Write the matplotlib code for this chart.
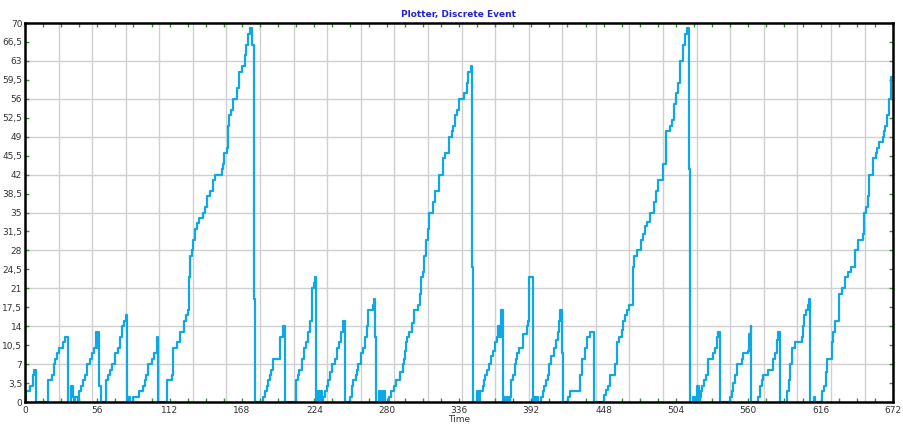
import numpy as np
import matplotlib
matplotlib.use("Agg")
import matplotlib.pyplot as plt

# step breakpoints (time, value), held until next point
times = [
    0, 0.8, 3.9, 5.9, 7.2, 8.5,
    17.5, 20.6, 22.4, 23.3, 24.5, 26.6, 29.2, 31.2, 33,
    36, 37, 38, 39, 41,
    42, 43.3, 44.6, 46.5, 48.3, 50.3, 51.6, 53.5, 54.9, 55.7, 56.2, 57.5, 58.5,
    62.7, 64.5, 65.8, 67, 69.7, 72.3, 73.5, 74.8, 76.7, 78.3, 79.2,
    80, 81.5, 83.3,
    88.5, 91, 92.8, 94, 95.5, 98, 100, 101.9, 102.7,
    110.2, 113.5, 114.3, 117.4, 120, 123.1, 124.6, 126.4, 127.2, 127.7, 129, 130.3,
    131.6, 132.9, 135, 137.5, 139, 141.1, 143.2, 145.8, 147, 152.2, 153.5, 154.3,
    156.1, 157.4, 158.2, 159.5, 160.8, 164.5, 165.5, 168, 170.1, 171.4, 172.7,
    174.5, 176.1, 177.1, 178.4,
    184.5, 186, 187.5, 188.5, 189.5, 190.5, 192, 197.5, 199.5, 201,
    209.8, 211, 212.4, 214.2, 216, 217.5, 219, 220.6, 222.2, 223.8, 224.4, 225.5,
    227.1, 228.3, 229.1, 230,
    230.9, 232.2, 233.6, 234.8, 236.1, 237.4, 240, 241.8, 243.3, 244.5, 245.9, 247.7,
    251.6, 252.9, 254.2, 256.3, 257.2, 258, 259.8, 261.9, 263.1, 265, 265.8, 269.2,
    270, 270.9, 271.7,
    274.3, 275.5, 277.5, 279,
    281.5, 283.5, 286, 287.5, 290, 292.4, 293.5, 294.5, 295.2, 296, 297, 300, 301.5,
    304.5, 305.5, 306.6, 307.9, 309.2, 310.2, 311.8, 313, 316.1, 317.4, 320.8, 324,
    325.2, 328.5, 330.3, 331.6, 332.9, 334.2, 336, 339.9, 341.9, 343.2, 345, 345.8,
    346.6,
    349.7, 351.5, 352.5,
    354.5, 355.1, 356.5, 357.9, 359.2, 361, 362.5, 363.9, 365.2, 366.5, 367.7, 368.3,
    369.7,
    371, 372, 373, 374,
    375.4, 376.5, 378, 379, 380, 381.2, 382.5, 385.8, 388.4, 389.3, 390, 390.5, 393.3,
    394, 395, 396, 397,
    399.8, 401, 402.1, 403.3, 404.6, 405.8, 407.4, 409.5, 411.1, 412.5, 413.8, 414.5,
    415.5, 416.7,
    420.6, 422, 429.7, 431, 433.5, 435, 437.4, 440.3,
    448, 449.5, 451.6, 452.8, 456.7, 458, 459.8, 461.9, 463.2, 464.5, 466.3, 467.8,
    470.5, 471.7, 473.5, 476.6, 478.2, 480, 481.6, 484.2, 486.8, 488.4, 489.7, 493.6,
    496.2, 499.3, 500.6, 502.4, 504, 505.8, 507.1, 509.7, 511, 512.3, 514.1, 515,
    517.4, 518.6, 520.5, 521.8,
    522.6, 523.3, 524.1, 525.9, 527.3, 529, 532.9, 534.2, 535.5, 536.8, 538.1,
    545.8, 547.1, 548.4, 549.6, 550.9, 554.8, 556.1, 560, 560.8, 561.8, 562.4,
    567.7, 569, 570.3, 571.6, 575.4, 578.8, 580.6, 581.9, 582.7, 583.4, 583.9, 584.5,
    589.6, 591.5, 592.5, 593.6, 596.1, 601.3, 602.3, 603.4, 604.9, 606, 606.7, 607.8,
    610.7, 612,
    616.7, 618.5, 620.1, 621.2, 624.4, 625.7, 627, 630.1, 632.2, 634.8, 637.3, 639.2,
    642.5, 644.6, 648.5, 649.5, 651.1, 652.4, 653.4, 656.8, 658.8, 660, 661.2, 664.3,
    665, 666.1, 667.4, 669.2, 670.8, 672,
]
values = [
    0, 2, 3, 5, 6, 0,
    4, 5, 7, 8, 9, 10, 11, 12, 0,
    3, 1, 0, 1, 0,
    2, 3, 4, 5, 7, 8, 9, 10, 13, 10, 13, 3, 0,
    4, 5, 6, 7, 9, 10, 12, 14, 15, 16, 0,
    1, 0, 1,
    2, 3, 4, 5, 7, 8, 9, 12, 0,
    4, 5, 10, 11, 13, 15, 16, 17, 23, 27, 28, 30,
    32, 33, 34, 35, 36, 38, 39, 41, 42, 43, 44, 46,
    47, 51, 53, 54, 56, 58, 61, 62, 64, 66, 68,
    69, 66, 19, 0,
    1, 2, 3, 4, 5, 6, 8, 12, 14, 0,
    4, 5, 6, 8, 10, 11, 13, 15, 21, 22, 23, 0,
    2, 0, 2, 0,
    1, 2, 3, 4, 5.5, 7, 8, 10, 11, 13, 15, 0,
    1, 3, 4, 5, 6, 7, 9, 10, 12, 14, 17, 18,
    19, 12, 0,
    2, 0, 2, 0,
    1, 2, 3, 4, 5.5, 7, 8, 9.5, 11, 12, 13, 14.5, 17,
    18, 20, 23, 24, 27, 30, 32, 35, 37, 39, 42, 45,
    46, 49, 50, 51, 53, 54, 56, 57, 59, 61, 62, 25,
    0,
    2, 0, 2,
    3, 4, 5, 6, 7, 8.5, 9.5, 11, 12, 14, 12, 17,
    0,
    1, 0, 1, 0,
    1, 4, 5, 7, 8, 9, 10, 12.5, 14, 15, 20, 23, 0,
    1, 0, 1, 0,
    1, 2, 3, 4, 5, 7, 8.5, 10, 11.5, 13, 15, 17,
    9, 0,
    1, 2, 5, 8, 10, 12, 13, 0,
    1.3, 2.2, 3, 5, 7, 11, 12, 13.3, 15, 16, 17, 18,
    25, 27, 28, 30, 31, 32.5, 33.3, 35, 37, 39, 41, 44,
    50, 51, 52, 55, 57, 59, 63, 66, 68, 69, 43, 0,
    1, 0, 3, 0,
    1, 2, 3, 4, 5, 8, 9, 10, 12, 13, 0,
    1, 2, 3.5, 5, 7, 8, 9, 9.5, 12.5, 14, 0,
    1, 3, 4, 5, 6, 8, 9, 11.5, 13, 12, 13, 0,
    2, 4, 7, 10, 11, 12, 14, 16, 17, 18, 19, 0,
    1, 0,
    2, 3, 5.5, 8, 11, 13, 15, 20, 21, 23, 24, 25,
    28, 30, 31, 35, 36, 38, 42, 45, 46, 47, 48, 49,
    50, 51, 53, 56, 60, 60,
]

x_ticks = list(range(0, 673, 56))
y_ticks = list(np.arange(0, 70.1, 3.5))
y_tick_labels = [("%g" % v).replace(".", ",") for v in y_ticks]

fig = plt.figure(figsize=(9.04, 4.26), dpi=100)
ax = fig.add_axes([25 / 904, 24 / 426, 868 / 904, 379 / 426])

# background grid (x every 26, y every 7 as in the source plotter)
for g in range(26, 672, 26):
    ax.axvline(g, color="#d0d0d0", lw=1.0, zorder=0)
for g in np.arange(7, 70, 7):
    ax.axhline(g, color="#d0d0d0", lw=1.0, zorder=0)

ax.step(times, values, where="post", color="#0ea8e4", lw=1.6, zorder=3)

ax.set_xlim(0, 672)
ax.set_ylim(0, 70)
ax.set_xticks(x_ticks)
ax.set_xticks(range(0, 673, 14), minor=True)
ax.set_yticks(y_ticks)
ax.set_yticklabels(y_tick_labels)

ax.tick_params(which="both", direction="in", top=True, right=True,
               color="#2a9a2a", length=3, width=1, labelsize=6.5,
               labelcolor="#333333")
ax.tick_params(axis="x", pad=3)
ax.tick_params(axis="y", pad=2)
for s in ax.spines.values():
    s.set_linewidth(1.8)
    s.set_color("black")
    s.set_zorder(5)

ax.set_xlabel("Time", fontsize=6.5, color="#333333", labelpad=0)
ax.set_title("Plotter, Discrete Event", fontsize=6.5, color="#2424d0",
             fontweight="bold", pad=4)

fig.savefig("out.png", dpi=100)
